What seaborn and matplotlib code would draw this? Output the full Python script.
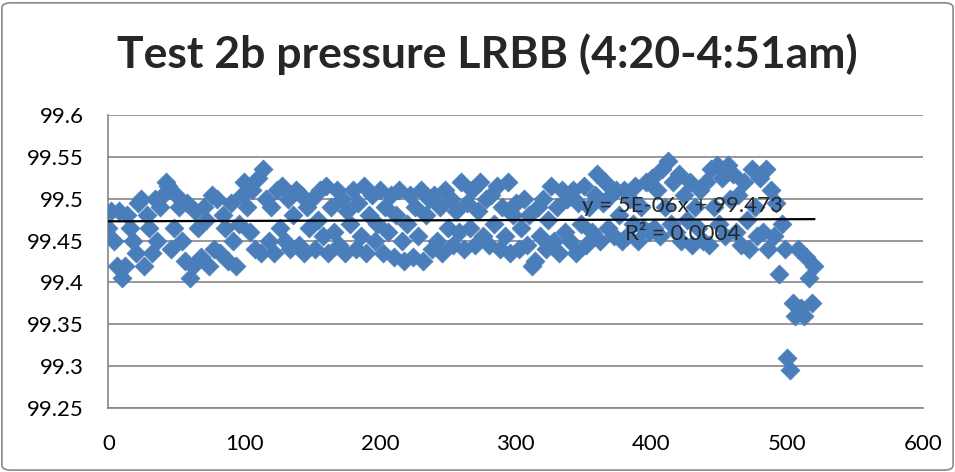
import numpy as np
import matplotlib
matplotlib.use("Agg")
import matplotlib.pyplot as plt
import seaborn as sns
from matplotlib.patches import FancyBboxPatch

# pressure readings (every 2nd sample)
pressure = [
    99.465, 99.485, 99.45, 99.42, 99.485, 99.405, 99.42, 99.48, 99.465, 99.45,
    99.435, 99.495, 99.50, 99.42, 99.48, 99.465, 99.435, 99.50, 99.45, 99.49,
    99.505, 99.52, 99.515, 99.44, 99.465, 99.505, 99.49, 99.45, 99.425, 99.495,
    99.405, 99.42, 99.485, 99.465, 99.43, 99.49, 99.475, 99.42, 99.505, 99.44,
    99.50, 99.435, 99.48, 99.465, 99.425, 99.495, 99.45, 99.42, 99.47, 99.505,
    99.52, 99.49, 99.46, 99.51, 99.44, 99.525, 99.435, 99.535, 99.50, 99.45,
    99.49, 99.435, 99.51, 99.465, 99.515, 99.45, 99.50, 99.44, 99.48, 99.51,
    99.445, 99.505, 99.435, 99.49, 99.465, 99.50, 99.44, 99.475, 99.51, 99.455,
    99.515, 99.435, 99.49, 99.46, 99.51, 99.445, 99.50, 99.435, 99.485, 99.47,
    99.51, 99.44, 99.495, 99.455, 99.515, 99.435, 99.48, 99.505, 99.45, 99.47,
    99.51, 99.435, 99.49, 99.46, 99.505, 99.43, 99.48, 99.51, 99.45, 99.425,
    99.47, 99.505, 99.43, 99.49, 99.455, 99.51, 99.425, 99.48, 99.50, 99.44,
    99.505, 99.45, 99.49, 99.435, 99.51, 99.465, 99.50, 99.445, 99.485, 99.46,
    99.52, 99.44, 99.495, 99.465, 99.51, 99.445, 99.485, 99.52, 99.455, 99.50,
    99.445, 99.505, 99.47, 99.515, 99.44, 99.49, 99.455, 99.52, 99.435, 99.48,
    99.495, 99.44, 99.465, 99.50, 99.445, 99.48, 99.42, 99.425, 99.49, 99.455,
    99.50, 99.44, 99.475, 99.515, 99.45, 99.49, 99.435, 99.51, 99.46, 99.50,
    99.45, 99.51, 99.435, 99.495, 99.47, 99.515, 99.445, 99.49, 99.46, 99.505,
    99.53, 99.45, 99.495, 99.52, 99.465, 99.505, 99.455, 99.51, 99.48, 99.45,
    99.51, 99.455, 99.50, 99.47, 99.515, 99.45, 99.49, 99.465, 99.52, 99.46,
    99.525, 99.465, 99.51, 99.455, 99.535, 99.49, 99.545, 99.47, 99.52, 99.46,
    99.53, 99.45, 99.505, 99.475, 99.52, 99.445, 99.49, 99.465, 99.51, 99.45,
    99.52, 99.445, 99.535, 99.49, 99.54, 99.47, 99.525, 99.455, 99.54, 99.50,
    99.53, 99.46, 99.505, 99.445, 99.52, 99.475, 99.44, 99.535, 99.49, 99.455,
    99.525, 99.46, 99.535, 99.44, 99.51, 99.455, 99.495, 99.41, 99.47, 99.44,
    99.31, 99.295, 99.375, 99.36, 99.44, 99.37, 99.36, 99.43, 99.405, 99.375,
    99.42,
]
sample_no = np.arange(len(pressure)) * 2

# trendline as printed on the chart
trend_slope = 5e-06
trend_intercept = 99.473
trend_label = "y = 5E-06x + 99.473\nR² = 0.0004"

title = "Test 2b pressure LRBB (4:20-4:51am)"
x_ticks = [0, 100, 200, 300, 400, 500, 600]
y_ticks = [99.25, 99.3, 99.35, 99.4, 99.45, 99.5, 99.55, 99.6]
y_tick_labels = ["99.25", "99.3", "99.35", "99.4", "99.45", "99.5", "99.55", "99.6"]

sns.set_style("white")
plt.rcParams['font.family'] = ['Lato', 'DejaVu Sans']

fig = plt.figure(figsize=(9.55, 4.72), dpi=100)
ax = fig.add_axes([0.1136, 0.1356, 0.853, 0.6208])

sns.scatterplot(x=sample_no, y=pressure, marker="D", s=92, color="#4A7EBB",
                edgecolor="#4A7EBB", linewidth=0.6, ax=ax, zorder=3)

# linear trendline
tx = np.array([sample_no[0], sample_no[-1]])
ax.plot(tx, trend_slope * tx + trend_intercept, color="black", lw=1.6, zorder=4)
ax.text(423, 99.4745, trend_label, ha="center", va="center", multialignment="center",
        fontsize=16, linespacing=1.5, zorder=5)

ax.set_xlim(0, 600)
ax.set_ylim(99.25, 99.6)
ax.set_xticks(x_ticks)
ax.set_yticks(y_ticks)
ax.set_yticklabels(y_tick_labels)
ax.yaxis.grid(True, color="#868686", lw=1.2)
ax.set_axisbelow(True)
for s in ["top", "right"]:
    ax.spines[s].set_visible(False)
for s in ["left", "bottom"]:
    ax.spines[s].set_color("#868686")
    ax.spines[s].set_linewidth(1.2)
ax.tick_params(axis="both", direction="out", width=1.2, color="#868686",
               labelsize=16, labelcolor="black")
ax.tick_params(axis="y", length=6, pad=12)
ax.tick_params(axis="x", length=4, pad=15)

fig.text(0.51, 0.885, title, ha="center", va="center", fontsize=32, fontweight="bold")

border = FancyBboxPatch((0.002, 0.004), 0.996, 0.99, boxstyle="round,pad=0,rounding_size=0.01",
                        transform=fig.transFigure, fill=False, edgecolor="#898989", lw=1.2)
fig.patches.append(border)

fig.savefig("out.png", dpi=100)
